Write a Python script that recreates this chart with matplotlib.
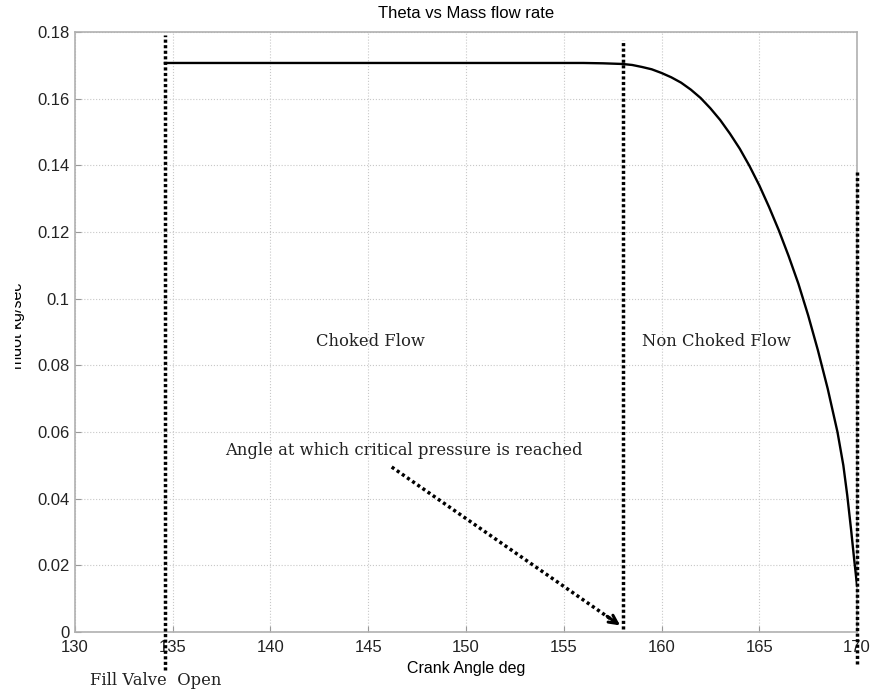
import matplotlib.pyplot as plt
from matplotlib.transforms import Bbox

# dati
theta = [134.6, 150, 156, 157, 158, 158.5, 159, 159.5, 160, 160.5, 161, 161.5, 162, 162.5,
         163, 163.5, 164, 164.5, 165, 165.5, 166, 166.5, 167, 167.5, 168, 168.5, 169,
         169.3, 169.5, 169.7, 169.85, 170]
mdot = [0.1707, 0.1707, 0.1707, 0.1706, 0.1704, 0.1701, 0.1695, 0.1688, 0.1677, 0.1664,
        0.1648, 0.1627, 0.1602, 0.1571, 0.1536, 0.1495, 0.1450, 0.1398, 0.1340, 0.1275,
        0.1205, 0.1128, 0.1045, 0.0950, 0.0845, 0.0730, 0.0600, 0.0500, 0.0410, 0.0305,
        0.0220, 0.0140]

# linee verticali tratteggiate: (x, y_basso, y_alto)
vlines = [(134.6, -0.0115, 0.179), (158.05, 0.001, 0.1775), (170.0, -0.0095, 0.138)]

labels = ["Choked Flow", "Non Choked Flow", "Angle at which critical pressure is reached",
          "Fill Valve  Open"]
label_pos = [(145.1, 0.087), (162.8, 0.087), (146.8, 0.0545), (134.15, -0.0145)]

arrow_start = (146.2, 0.0495)
arrow_end = (158.0, 0.0015)

fig = plt.figure(figsize=(8.73, 6.92), dpi=100)
ax = fig.add_axes([0.0859, 0.0867, 0.8958, 0.8671])

ax.plot(theta, mdot, color='black', linewidth=1.7, zorder=3)

for x, y0, y1 in vlines:
    ax.plot([x, x], [y0, y1], color='black', linewidth=2.5, linestyle=(0, (0.9, 0.7)),
            clip_on=False, zorder=4)

serif = ['DejaVu Serif']
for txt, (x, y) in zip(labels, label_pos):
    ax.text(x, y, txt, ha='center', va='center', fontsize=11.8, family=serif,
            color='#222222', clip_on=False)

# freccia tratteggiata
ax.plot([arrow_start[0], arrow_end[0] - 0.3], [arrow_start[1], arrow_end[1] + 0.0012],
        color='black', linewidth=2.5, linestyle=(0, (0.9, 0.9)))
ax.annotate("", xy=arrow_end, xytext=(arrow_end[0] - 0.9, arrow_end[1] + 0.0037),
            arrowprops=dict(arrowstyle='->', color='black', lw=2.2,
                            mutation_scale=15))

ax.set_xlim(130, 170)
ax.set_ylim(0, 0.18)
ax.set_xticks([130, 135, 140, 145, 150, 155, 160, 165, 170])
ax.set_yticks([0, 0.02, 0.04, 0.06, 0.08, 0.1, 0.12, 0.14, 0.16, 0.18])
ax.set_yticklabels(['0', '0.02', '0.04', '0.06', '0.08', '0.1', '0.12', '0.14', '0.16', '0.18'])

sans = ['Liberation Sans', 'DejaVu Sans']
for lab in ax.get_xticklabels() + ax.get_yticklabels():
    lab.set_family(sans)
    lab.set_fontsize(12)
    lab.set_color('#222222')

ax.grid(True, color='#c8c8c8', linestyle=':', linewidth=0.8)
ax.tick_params(direction='in', length=4, color='#999999')
ax.tick_params(axis='x', pad=6)
ax.tick_params(axis='y', pad=4)
for s in ax.spines.values():
    s.set_color('#b0b0b0')
    s.set_linewidth(1.2)

ax.set_title("Theta vs Mass flow rate", fontsize=12, family=sans, pad=10)
ax.set_xlabel("Crank Angle deg", fontsize=11.5, family=sans, labelpad=4)
ax.set_ylabel("mdot kg/sec", fontsize=11.5, family=sans)
ax.yaxis.set_label_coords(-0.064, 0.51)
# etichetta y tagliata a sinistra come nell'originale
ax.yaxis.label.set_clip_box(Bbox.from_extents(15, 0, 873, 692))
ax.yaxis.label.set_clip_on(True)

plt.savefig("out.png", dpi=100)
